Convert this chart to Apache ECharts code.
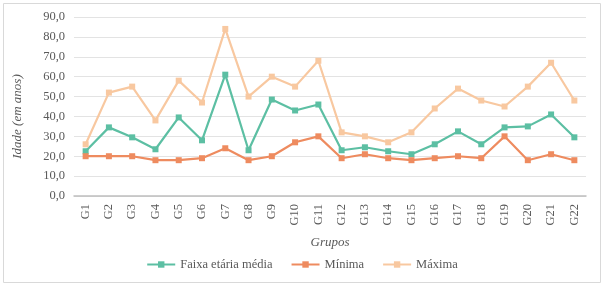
<!DOCTYPE html>
<html>
<head>
<meta charset="utf-8">
<script src="https://cdn.jsdelivr.net/npm/echarts@6/dist/echarts.min.js"></script>
<style>
  html, body { margin: 0; padding: 0; background: #fff; }
  #chart { width: 604px; height: 286px; }
</style>
</head>
<body>
<div id="chart"></div>
<script>
// grupos e idades
const grupos = ['G1','G2','G3','G4','G5','G6','G7','G8','G9','G10','G11','G12','G13','G14','G15','G16','G17','G18','G19','G20','G21','G22'];
const media  = [22.5, 34.5, 29.5, 23.5, 39.5, 28, 61, 23, 48.5, 43, 46, 23, 24.5, 22.5, 21, 26, 32.5, 26, 34.5, 35, 41, 29.5];
const minima = [20, 20, 20, 18, 18, 19, 24, 18, 20, 27, 30, 19, 21, 19, 18, 19, 20, 19, 30, 18, 21, 18];
const maxima = [26, 52, 55, 38, 58, 47, 84, 50, 60, 55, 68, 32, 30, 27, 32, 44, 54, 48, 45, 55, 67, 48];

const font = '"Liberation Serif", "Times New Roman", serif';
const textColor = '#595959';

const chart = echarts.init(document.getElementById('chart'));

function serie(name, data, color) {
    return {
        name: name,
        type: 'line',
        data: data,
        symbol: 'rect',
        symbolSize: 6,
        showSymbol: true,
        lineStyle: { width: 2.2, color: color },
        itemStyle: { color: color },
        emphasis: { disabled: true },
        animation: false
    };
}

chart.setOption({
    animation: false,
    textStyle: { fontFamily: font },
    graphic: [{
        type: 'rect',
        shape: { x: 3.5, y: 3.5, width: 597, height: 279 },
        style: { fill: 'none', stroke: '#d9d9d9', lineWidth: 1 },
        silent: true
    }],
    grid: {
        left: 74,
        right: 18,
        top: 17,
        bottom: 90
    },
    legend: {
        bottom: 10,
        left: 'center',
        itemGap: 18,
        itemWidth: 28,
        itemHeight: 8,
        textStyle: { fontFamily: font, fontSize: 12.5, color: textColor },
        data: ['Faixa etária média', 'Mínima', 'Máxima']
    },
    xAxis: {
        type: 'category',
        data: grupos,
        boundaryGap: true,
        name: 'Grupos',
        nameLocation: 'middle',
        nameGap: 40,
        nameTextStyle: { fontFamily: font, fontSize: 13, fontStyle: 'italic', color: textColor },
        axisLine: { lineStyle: { color: '#bfbfbf', width: 1.5 } },
        axisTick: { show: false },
        axisLabel: {
            rotate: 90,
            interval: 0,
            margin: 8,
            fontFamily: font,
            fontSize: 12.5,
            color: textColor
        }
    },
    yAxis: {
        type: 'value',
        min: 0,
        max: 90,
        interval: 10,
        name: 'Idade (em anos)',
        nameLocation: 'middle',
        nameGap: 50,
        nameTextStyle: { fontFamily: font, fontSize: 13, fontStyle: 'italic', color: textColor, padding: [0, 20, 0, 0] },
        axisLine: { show: false },
        axisTick: { show: false },
        axisLabel: {
            margin: 9,
            fontFamily: font,
            fontSize: 12.5,
            color: textColor,
            formatter: v => v.toFixed(1).replace('.', ',')
        },
        splitLine: { lineStyle: { color: '#e3e3e3', width: 1 } }
    },
    series: [
        serie('Faixa etária média', media, '#5cbfa3'),
        serie('Mínima', minima, '#ee8b5f'),
        serie('Máxima', maxima, '#f8c8a0')
    ]
});
</script>
</body>
</html>
